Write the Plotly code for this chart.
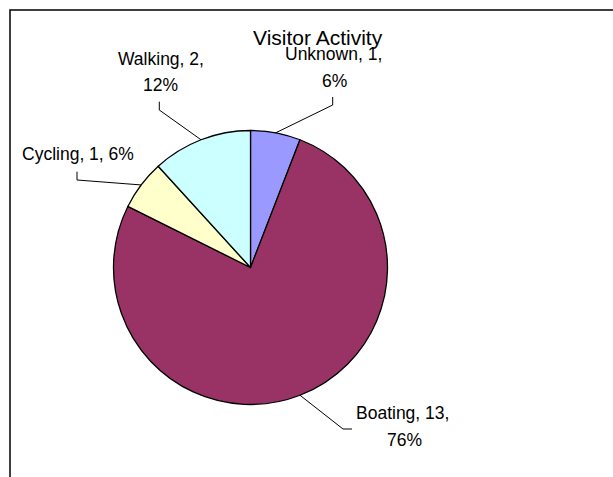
import math
import plotly.graph_objects as go

# Visitor activity counts (slice order clockwise from 12 o'clock)
activities = ["Unknown", "Boating", "Cycling", "Walking"]
counts = [1, 13, 1, 2]
colors = ["#9999FF", "#993366", "#FFFFCC", "#CCFFFF"]
chart_title = "Visitor Activity"

W, H = 613, 477
CX, CY, R = 250.5, 267.5, 137.0  # pie centre and radius in pixels


def px(x):
    return x / W


def py(y):
    return 1 - y / H


total = sum(counts)
pcts = [round(100 * c / total) for c in counts]

fig = go.Figure(
    go.Pie(
        labels=activities,
        values=counts,
        sort=False,
        direction="clockwise",
        rotation=0,
        marker=dict(colors=colors, line=dict(color="#000000", width=1.3)),
        textinfo="none",
        hoverinfo="label+value+percent",
        showlegend=False,
        domain=dict(
            x=[px(CX - R), px(CX + R)],
            y=[py(CY + R), py(CY - R)],
        ),
    )
)

# Label layout: (line centres, elbow points) for each slice
label_layout = {
    "Unknown": dict(lines=[(333.5, 54.5), (334, 80.5)], split=True,
                    elbow=[(332.7, 105), (332.7, 97)]),
    "Boating": dict(lines=[(402, 413), (404.5, 439.5)], split=True,
                    elbow=[(343, 429), (352, 429)]),
    "Cycling": dict(lines=[(78, 153.5)], split=False,
                    elbow=[(77, 180), (77, 171.7)]),
    "Walking": dict(lines=[(160.5, 59), (160, 84.5)], split=True,
                    elbow=[(159.3, 110), (159.3, 101.7)]),
}

font_family = "Liberation Sans, Arial, sans-serif"
annotations = [
    dict(text=chart_title, x=px(317.5), y=py(37), xref="paper", yref="paper",
         showarrow=False, xanchor="center", yanchor="middle",
         font=dict(family=font_family, size=21, color="#000000"))
]
shapes = [
    dict(type="rect", xref="paper", yref="paper",
         x0=px(10), y0=py(10), x1=px(W + 20), y1=py(H + 20),
         line=dict(color="#000000", width=1.5), fillcolor="rgba(0,0,0,0)")
]

cum = 0
for name, val, pct in zip(activities, counts, pcts):
    mid = (cum + val / 2) / total * 2 * math.pi
    cum += val
    edge = (CX + R * math.sin(mid), CY - R * math.cos(mid))
    spec = label_layout[name]
    if spec["split"]:
        texts = [f"{name}, {val},", f"{pct}%"]
    else:
        texts = [f"{name}, {val}, {pct}%"]
    for t, (lx, ly) in zip(texts, spec["lines"]):
        annotations.append(
            dict(text=t, x=px(lx), y=py(ly), xref="paper", yref="paper",
                 showarrow=False, xanchor="center", yanchor="middle",
                 font=dict(family=font_family, size=17.5, color="#000000"))
        )
    pts = [edge] + spec["elbow"]
    path = "M " + " L ".join(f"{px(x)},{py(y)}" for x, y in pts)
    shapes.append(dict(type="path", xref="paper", yref="paper", path=path,
                       line=dict(color="#000000", width=1)))

fig.update_layout(
    width=W,
    height=H,
    margin=dict(l=0, r=0, t=0, b=0),
    paper_bgcolor="#FFFFFF",
    plot_bgcolor="#FFFFFF",
    annotations=annotations,
    shapes=shapes,
)

fig.write_html("out.html")
